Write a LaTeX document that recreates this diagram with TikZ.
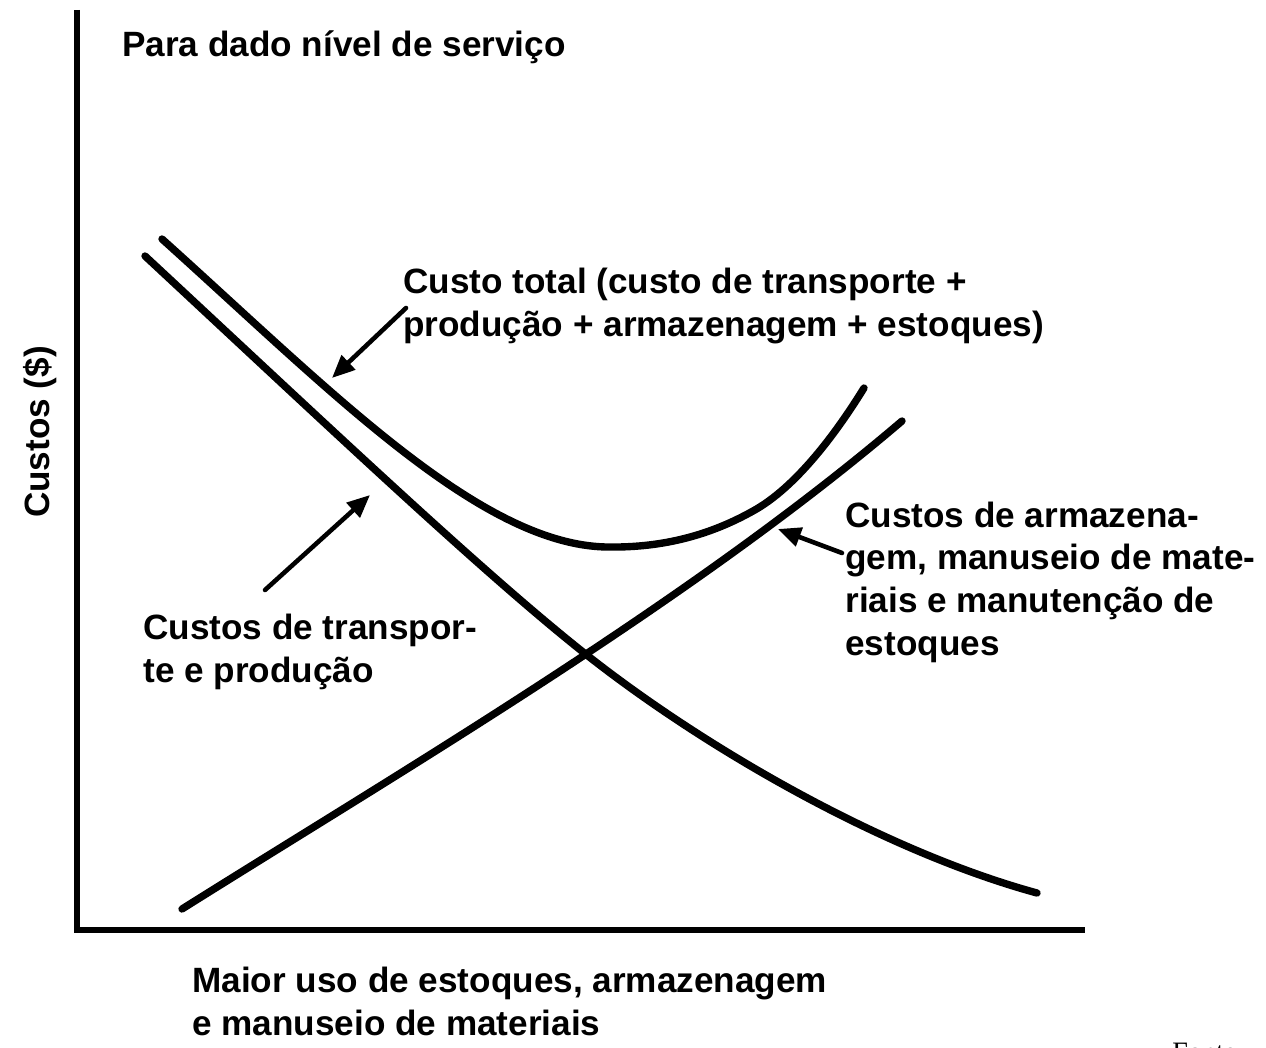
\documentclass[tikz,border=0pt]{standalone}
\usepackage{fontspec}
\setmainfont{Liberation Sans}
\newfontfamily\fonteserif{Liberation Serif}
\usetikzlibrary{arrows.meta}
\tikzset{
  eixo/.style={line width=3.4pt},
  curva/.style={line width=4.2pt, line cap=round, line join=round},
  seta/.style={line width=2.6pt, line cap=round, -{Triangle[length=13pt,width=11pt]}},
  rotulo/.style={font=\fontsize{20}{24.2}\selectfont\bfseries, align=left, inner sep=0pt, anchor=base west},
}
\begin{document}
\begin{tikzpicture}[x=0.02cm, y=-0.02cm]
  \useasboundingbox (0,0) rectangle (1266,1047);
  % eixos
  \draw[eixo] (77,10) -- (77,930) -- (1085,930);
  % curvas de custo
  \draw[curva] (162,239) .. controls (330,390) and (480,545) .. (607,547)
    .. controls (665,548) and (712,534) .. (753,511)
    .. controls (795,488) and (835,435) .. (864,388);
  \draw[curva] (145,256) .. controls (330,428) and (480,570) .. (583,652)
    .. controls (700,745) and (880,850) .. (1037,893);
  \draw[curva] (182,909) .. controls (400,772) and (690,602) .. (902,421);
  % textos (base = ultima linha)
  \node[rotulo] (titulo) at (122,57) {Para dado nível de serviço};
  \node[rotulo, rotate=90, anchor=center] (custos) at (40,432) {Custos (\$)};
  \node[rotulo] (total) at (403,336) {Custo total (custo de transporte +\\produção + armazenagem + estoques)};
  \node[rotulo] (transp) at (143,682) {Custos de transpor-\\te e produção};
  \node[rotulo] (armaz) at (845,655) {Custos de armazena-\\gem, manuseio de mate-\\riais e manutenção de\\estoques};
  \node[rotulo] (maior) at (192,1035) {Maior uso de estoques, armazenagem\\e manuseio de materiais};
  \node[font=\fonteserif\fontsize{16}{19}\selectfont, inner sep=0pt, anchor=base west] (fonte) at (1172,1061) {Fonte};
  % setas
  \coordinate (a1) at (406,308);
  \coordinate (b1) at (332,378);
  \coordinate (a2) at (265,590);
  \coordinate (b2) at (370,495);
  \coordinate (a3) at (842,553);
  \coordinate (b3) at (778,529);
  \draw[seta] (a1) -- (b1);
  \draw[seta] (a2) -- (b2);
  \draw[seta] (a3) -- (b3);
\end{tikzpicture}
\end{document}
